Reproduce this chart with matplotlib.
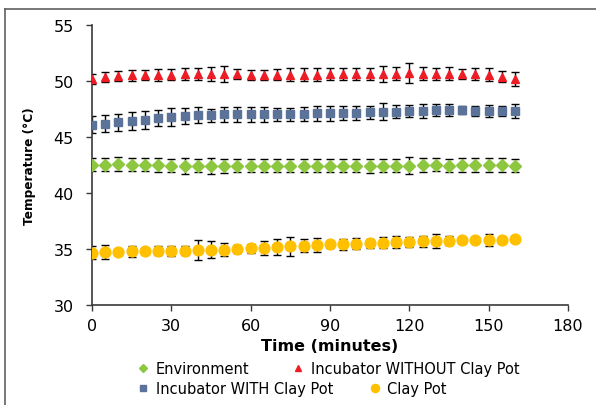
import matplotlib
matplotlib.use("Agg")
import matplotlib.pyplot as plt
from matplotlib.lines import Line2D

plt.rcParams['font.family'] = ['DejaVu Sans']

# time in minutes
time = [0, 5, 10, 15, 20, 25, 30, 35, 40, 45, 50, 55, 60, 65, 70, 75, 80,
        85, 90, 95, 100, 105, 110, 115, 120, 125, 130, 135, 140, 145, 150, 155, 160]

environment = [42.54, 42.54, 42.57, 42.54, 42.54, 42.48, 42.45, 42.43, 42.45, 42.40, 42.40,
               42.43, 42.43, 42.43, 42.43, 42.45, 42.45, 42.45, 42.45, 42.43, 42.45, 42.40,
               42.45, 42.45, 42.45, 42.51, 42.54, 42.45, 42.51, 42.51, 42.51, 42.51, 42.45]
environment_err = [0.6, 0.6, 0.65, 0.6, 0.6, 0.6, 0.6, 0.7, 0.6, 0.7, 0.6,
                   0.6, 0.6, 0.6, 0.6, 0.6, 0.6, 0.6, 0.6, 0.6, 0.6, 0.6,
                   0.6, 0.6, 0.75, 0.6, 0.6, 0.6, 0.6, 0.65, 0.6, 0.6, 0.6]

without_pot = [50.17, 50.35, 50.44, 50.50, 50.54, 50.54, 50.57, 50.60, 50.63, 50.63, 50.63,
               50.60, 50.57, 50.57, 50.57, 50.57, 50.57, 50.57, 50.60, 50.63, 50.63, 50.63,
               50.63, 50.66, 50.69, 50.66, 50.63, 50.66, 50.63, 50.63, 50.57, 50.40, 50.17]
without_pot_err = [0.45, 0.45, 0.45, 0.5, 0.45, 0.5, 0.5, 0.55, 0.5, 0.6, 0.75,
                   0.45, 0.45, 0.45, 0.5, 0.55, 0.6, 0.6, 0.55, 0.5, 0.55, 0.5,
                   0.75, 0.6, 0.9, 0.6, 0.55, 0.6, 0.45, 0.5, 0.55, 0.45, 0.6]

with_pot = [46.10, 46.19, 46.31, 46.43, 46.55, 46.67, 46.81, 46.88, 46.94, 46.94, 47.02,
            47.02, 47.02, 47.02, 47.02, 47.02, 47.05, 47.11, 47.12, 47.14, 47.14, 47.20,
            47.26, 47.26, 47.32, 47.32, 47.38, 47.38, 47.41, 47.35, 47.32, 47.32, 47.32]
with_pot_err = [0.75, 0.75, 0.75, 0.8, 0.8, 0.7, 0.8, 0.7, 0.7, 0.6, 0.65,
                0.65, 0.65, 0.65, 0.6, 0.6, 0.6, 0.7, 0.65, 0.6, 0.65, 0.55,
                0.75, 0.6, 0.5, 0.6, 0.55, 0.55, 0.4, 0.45, 0.5, 0.45, 0.6]

clay_pot = [34.67, 34.72, 34.77, 34.80, 34.83, 34.83, 34.86, 34.86, 34.90, 34.92, 34.95,
            35.00, 35.05, 35.10, 35.18, 35.24, 35.30, 35.36, 35.42, 35.43, 35.46, 35.50,
            35.55, 35.60, 35.65, 35.68, 35.72, 35.74, 35.76, 35.76, 35.80, 35.84, 35.85]
clay_pot_err = [0.6, 0.6, 0.2, 0.5, 0.3, 0.4, 0.45, 0.4, 0.9, 0.75, 0.6,
                0.4, 0.4, 0.6, 0.7, 0.85, 0.55, 0.6, 0.3, 0.5, 0.5, 0.4,
                0.5, 0.55, 0.45, 0.5, 0.65, 0.4, 0.2, 0.2, 0.5, 0.15, 0.15]

series = [
    ("Environment", environment, environment_err, "D", "#8dc63f", 6.0),
    ("Incubator WITHOUT Clay Pot", without_pot, without_pot_err, "^", "#ee1c25", 6.0),
    ("Incubator WITH Clay Pot", with_pot, with_pot_err, "s", "#5b7398", 6.3),
    ("Clay Pot", clay_pot, clay_pot_err, "o", "#ffc000", 7.8),
]

fig = plt.figure(figsize=(5.96, 4.06), dpi=100)
ax = fig.add_axes([0.1544, 0.2463, 0.7987, 0.6897])

handles = {}
for name, ys, err, mk, col, ms in series:
    ax.errorbar(time, ys, yerr=err, fmt='none', ecolor='black', elinewidth=1,
                capsize=3.2, capthick=1, zorder=2)
    ax.plot(time, ys, linestyle='none', marker=mk, color=col, markersize=ms, zorder=3)
    handles[name] = Line2D([], [], linestyle='none', marker=mk, color=col, markersize=ms * 0.75)

ax.set_xlim(0, 180)
ax.set_ylim(30, 55)
ax.set_xticks([0, 30, 60, 90, 120, 150, 180])
ax.set_yticks([30, 35, 40, 45, 50, 55])
for s in ['top', 'right']:
    ax.spines[s].set_visible(False)
for s in ['left', 'bottom']:
    ax.spines[s].set_color('#3a3a3a')
    ax.spines[s].set_linewidth(1.2)
ax.tick_params(direction='out', length=4, width=1, color='#3a3a3a', labelsize=11.5,
               labelcolor='black')
ax.tick_params(axis='y', pad=9)
ax.tick_params(axis='x', pad=5)

ax.set_xlabel("Time (minutes)", fontsize=11.5, fontweight='bold', labelpad=4)
ax.set_ylabel("Temperature (°C)", fontsize=8.7, fontweight='bold', labelpad=13)

names1 = ["Environment", "Incubator WITHOUT Clay Pot"]
names2 = ["Incubator WITH Clay Pot", "Clay Pot"]
leg1 = fig.legend([handles[n] for n in names1], names1, ncol=2, loc='center left',
                  bbox_to_anchor=(0.232, 0.089), frameon=False, fontsize=10.5,
                  handlelength=0.7, handletextpad=0.5, columnspacing=3.0,
                  borderpad=0, borderaxespad=0)
leg2 = fig.legend([handles[n] for n in names2], names2, ncol=2, loc='center left',
                  bbox_to_anchor=(0.232, 0.040), frameon=False, fontsize=10.5,
                  handlelength=0.7, handletextpad=0.5, columnspacing=2.5,
                  borderpad=0, borderaxespad=0)

# outer frame (left and top edges visible)
fig.add_artist(Line2D([5 / 596, 5 / 596], [0, 396 / 406], color='#606060', lw=1.2,
                      transform=fig.transFigure))
fig.add_artist(Line2D([5 / 596, 1], [396 / 406, 396 / 406], color='#606060', lw=1.2,
                      transform=fig.transFigure))

fig.savefig("out.png", dpi=100)
